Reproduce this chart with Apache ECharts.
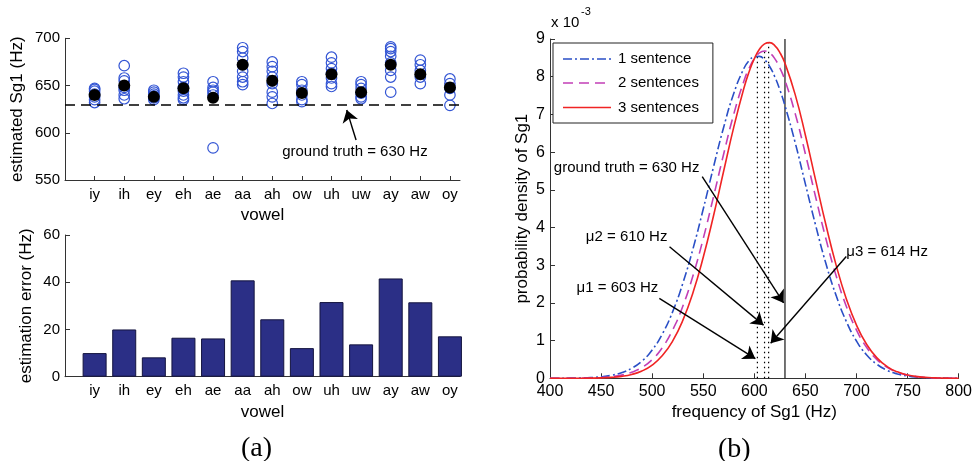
<!DOCTYPE html>
<html><head><meta charset="utf-8">
<script src="https://cdn.jsdelivr.net/npm/echarts@6/dist/echarts.min.js"></script>
<style>html,body{margin:0;padding:0;background:#fff}#c{width:975px;height:461px}</style>
</head><body><div id="c"></div>
<script>
// ---------- data (a) ----------
const vowels = ['iy','ih','ey','eh','ae','aa','ah','ow','uh','uw','ay','aw','oy'];
const vowelTicks = [1,2,3,4,5,6,7,8,9,10,11,12,13];
const sg1Samples = [
  [632,635,638,641,644,646,647],        // iy
  [671,658,655,648,645,640,636],        // ih
  [645,643,641,639,637,635],            // ey
  [663,659,654,648,644,640,637,635],    // eh
  [654,648,645,643,640,584],            // ae
  [690,686,679,672,665,659,654,651],    // aa
  [675,670,665,659,652,643,638,631],    // ah
  [654,651,645,640,635,633],            // ow
  [680,674,668,663,658,652,649],        // uh
  [654,651,647,642,638,636],            // uw
  [691,689,686,681,674,666,659,643],    // ay
  [677,672,666,659,652],                // aw
  [657,652,647,640,629]                 // oy
];
const sg1Mean = [640,650,638,647,637,672,655,642,662,643,672,662,648];
const estError = [10,20,8.2,16.5,16.2,40.8,24.3,12.1,31.6,13.7,41.6,31.5,17.1];
const groundTruth = 630;

// ---------- data (b) ----------
const freq = [400,410,420,430,440,450,460,470,480,490,500,510,520,530,540,550,560,570,580,590,595,600,605,
              610,615,620,625,630,640,650,660,670,680,690,700,710,720,730,740,750,760,770,780,790,800];
const density1 = [0.0007,0.0017,0.004,0.009,0.019,0.040,0.079,0.148,0.267,0.457,0.751,1.177,1.763,2.52,3.44,4.49,5.60,6.66,7.57,8.23,8.43,8.53,8.54,
                  8.45,8.27,8.00,7.65,7.23,6.25,5.15,4.06,3.05,2.20,1.51,0.989,0.619,0.371,0.212,0.116,0.060,0.030,0.014,0.0065,0.003,0.001];
const density2 = [0.0001,0.0007,0.0017,0.0041,0.0094,0.0205,0.0426,0.0846,0.160,0.289,0.497,0.817,1.280,1.913,2.726,3.708,4.81,5.95,7.02,7.90,8.23,8.48,8.63,
                  8.68,8.63,8.48,8.23,7.90,7.02,5.95,4.81,3.708,2.726,1.913,1.280,0.817,0.497,0.289,0.160,0.0846,0.0426,0.0205,0.0094,0.0041,0.0017];
const density3 = [0.0001,0.0003,0.0008,0.0019,0.0047,0.011,0.024,0.051,0.102,0.193,0.350,0.602,0.986,1.535,2.276,3.209,4.306,5.498,6.677,7.714,8.14,8.480,8.727,
                  8.869,8.903,8.826,8.641,8.355,7.525,6.447,5.257,4.078,3.008,2.112,1.411,0.897,0.542,0.312,0.171,0.089,0.044,0.021,0.0093,0.004,0.0016];
const seriesNames = ['1 sentence','2 sentences','3 sentences'];
const muValues = [603,610,614];
const muPeaks = [8.55,8.68,8.9];

// annotations (data coordinates)
const annoLeft = {text:'ground truth = 630 Hz', at:[9.79,579.6], from:[9.83,592.3], to:[9.515,624.1]};
const annoRight = [
  {text:'ground truth = 630 Hz', at:[475,5.59], from:[549,5.35], to:[628.7,2.0]},
  {text:'\u03bc2 = 610 Hz', at:[475,3.76], from:[517,3.49], to:[609,1.41]},
  {text:'\u03bc1 = 603 Hz', at:[466,2.40], from:[507,2.12], to:[601,0.52]},
  {text:'\u03bc3 = 614 Hz', at:[730,3.36], from:[690,3.23], to:[616,0.93]}
];

// ---------- chart ----------
const FONT = 'Liberation Sans, Arial, Helvetica, sans-serif';
const AX = '#333';
const TXT = '#000';
const colors = ['#2a4fc6','#c23fb6','#f02424'];
const lineTypes = [[9,3,2,3],[10,6],'solid'];
const dashArr = [[9,3,2,3],[10,6],null];

function leftX(gi){
  return {
    type:'value', gridIndex:gi, min:0, max:13.34,
    name:'vowel', nameLocation:'middle', nameGap:27,
    nameTextStyle:{fontSize:17,color:TXT,fontFamily:FONT},
    axisLine:{show:true,onZero:false,lineStyle:{color:AX,width:1}},
    axisTick:{show:true,inside:true,length:4,customValues:vowelTicks,lineStyle:{color:AX}},
    axisLabel:{customValues:vowelTicks,formatter:v=>vowels[Math.round(v)-1]||'',fontSize:15,color:TXT,fontFamily:FONT,margin:7},
    splitLine:{show:false}
  };
}
function yAx(gi,min,max,interval,name,gap,fs){
  return {
    type:'value', gridIndex:gi, min:min, max:max, interval:interval,
    name:name, nameLocation:'middle', nameRotate:90, nameGap:gap,
    nameTextStyle:{fontSize:17,color:TXT,fontFamily:FONT},
    axisLine:{show:true,onZero:false,lineStyle:{color:AX,width:1}},
    axisTick:{show:true,inside:true,length:5,lineStyle:{color:AX}},
    axisLabel:{fontSize:fs,color:TXT,fontFamily:FONT,margin:5},
    splitLine:{show:false}
  };
}
const textLabel = {show:true,position:'inside',formatter:p=>p.value[2],fontSize:15,color:TXT,fontFamily:FONT,opacity:1};

const scatterData = [];
sg1Samples.forEach((arr,i)=>arr.forEach(v=>scatterData.push([i+1,v])));

const series = [
  {
    type:'scatter', xAxisIndex:0, yAxisIndex:0, data:scatterData, symbol:'circle', symbolSize:10.5,
    itemStyle:{color:'rgba(255,255,255,0)',borderColor:'#3355d4',borderWidth:1.2,opacity:1}, z:3,
    markLine:{silent:true,symbol:'none',label:{show:false},
      lineStyle:{color:'#000',width:1.6,type:[10,6]},
      data:[{yAxis:groundTruth}]}
  },
  {
    type:'scatter', xAxisIndex:0, yAxisIndex:0, data:sg1Mean.map((v,i)=>[i+1,v]), symbol:'circle', symbolSize:12,
    itemStyle:{color:'#000',opacity:1}, z:4,
    markLine:{silent:true,symbol:['none','arrow'],symbolSize:12,label:{show:false},
      lineStyle:{color:'#000',width:1.4,type:'solid'},
      data:[[{coord:annoLeft.from},{coord:annoLeft.to}]]}
  },
  {
    type:'scatter', xAxisIndex:0, yAxisIndex:0, data:[[annoLeft.at[0],annoLeft.at[1],annoLeft.text]],
    symbolSize:0, itemStyle:{color:'#000',opacity:1}, silent:true, label:textLabel
  },
  {
    type:'bar', xAxisIndex:1, yAxisIndex:1, data:estError.map((v,i)=>[i+1,v]), barWidth:24,
    itemStyle:{color:'#2b2f86',borderColor:'#14143f',borderWidth:1}
  }
];

[density1,density2,density3].forEach((d,k)=>{
  series.push({
    type:'line', name:seriesNames[k], xAxisIndex:2, yAxisIndex:2,
    data:freq.map((f,i)=>[f,d[i]]), smooth:true, symbol:'none', showSymbol:false,
    lineStyle:{color:colors[k],width:1.6,type:lineTypes[k]}, itemStyle:{color:colors[k]}, z:3
  });
});
muValues.forEach((m,k)=>{
  series.push({
    type:'line', xAxisIndex:2, yAxisIndex:2, data:[[m,0],[m,muPeaks[k]]], symbol:'none', silent:true,
    lineStyle:{color:'#000',width:1.2,type:[1.5,3.5]}, z:2
  });
});
series.push({
  type:'line', xAxisIndex:2, yAxisIndex:2, data:[[groundTruth,0],[groundTruth,9]], symbol:'none', silent:true,
  lineStyle:{color:'#000',width:1.1}, z:2,
  markLine:{silent:true,symbol:['none','arrow'],symbolSize:12,label:{show:false},
    lineStyle:{color:'#000',width:1.4,type:'solid'},
    data:annoRight.map(a=>[{coord:a.from},{coord:a.to}])}
});
series.push({
  type:'scatter', xAxisIndex:2, yAxisIndex:2, data:annoRight.map(a=>[a.at[0],a.at[1],a.text]),
  symbolSize:0, itemStyle:{color:'#000',opacity:1}, silent:true, label:textLabel
});

// legend line samples (drawn as graphic, aligned with the legend rows)
const legendRowsY = [59,83,107.5];
const legendSamples = seriesNames.map((n,k)=>({
  type:'line', z:100, silent:true,
  shape:{x1:563,y1:legendRowsY[k],x2:611,y2:legendRowsY[k]},
  style:{stroke:colors[k],lineWidth:1.6,lineDash:dashArr[k]}
}));

const option = {
  animation:false,
  backgroundColor:'#fff',
  textStyle:{fontFamily:FONT},
  grid:[
    {left:65,right:515,top:38.3,bottom:281},
    {left:65,right:515,top:235,bottom:84.3},
    {left:550,right:14,top:39,bottom:82.7}
  ],
  xAxis:[
    leftX(0), leftX(1),
    {
      type:'value', gridIndex:2, min:400, max:800, interval:50,
      name:'frequency of Sg1 (Hz)', nameLocation:'middle', nameGap:20,
      nameTextStyle:{fontSize:17,color:TXT,fontFamily:FONT},
      axisLine:{show:true,onZero:false,lineStyle:{color:AX,width:1}},
      axisTick:{show:true,inside:true,length:5,lineStyle:{color:AX}},
      axisLabel:{fontSize:16,color:TXT,fontFamily:FONT,margin:5},
      splitLine:{show:false}
    }
  ],
  yAxis:[
    yAx(0,550,700,50,'estimated Sg1 (Hz)',39,15),
    yAx(1,0,60,20,'estimation error (Hz)',30,15),
    yAx(2,0,9,1,'probability density of Sg1',19,16)
  ],
  legend:{
    data:seriesNames.map(n=>({name:n,icon:'none'})), orient:'vertical', left:553, top:43,
    borderColor:'#222', borderWidth:1, backgroundColor:'#fff',
    padding:[8,14,8,10], itemGap:9.5, itemWidth:50, itemHeight:14,
    textStyle:{fontSize:15,color:TXT,fontFamily:FONT}, selectedMode:false
  },
  graphic:[
    {type:'text',left:551,top:15,style:{text:'x 10',fill:TXT,font:'15px '+FONT}},
    {type:'text',left:581,top:6,style:{text:'-3',fill:TXT,font:'11px '+FONT}},
    {type:'text',left:241,top:435,style:{text:'(a)',fill:'#000',font:'28px Liberation Serif, Times New Roman, serif'}},
    {type:'text',left:718,top:436,style:{text:'(b)',fill:'#000',font:'28px Liberation Serif, Times New Roman, serif'}}
  ].concat(legendSamples),
  series:series
};
const chart = echarts.init(document.getElementById('c'));
chart.setOption(option);
</script></body></html>
